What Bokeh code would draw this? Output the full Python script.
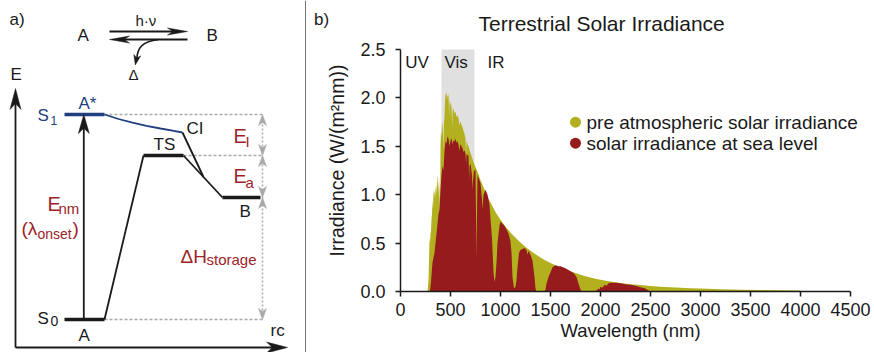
import numpy as np
from bokeh.plotting import figure
from bokeh.layouts import row
from bokeh.models import Range1d, FixedTicker, PrintfTickFormatter, Label
from bokeh.core.properties import value
from bokeh.embed import file_html
from bokeh.resources import INLINE

FONT = "Liberation Sans"
BLUE = "#213f7f"
DRED = "#9c2428"
GRAY = "#a9a9a9"
INK = "#1a1a1a"
YEL = "#b3b01f"
RED = "#951b1c"
MID = 0.35  # baseline -> middle offset (em)

# ---------------- panel a) : schematic energy diagram (diagram units) ----------------
# energy levels: S0/A, S1/A*, TS, B
lev_x0 = [64, 64, 143, 222]
lev_x1 = [104, 104, 183, 260]
lev_y = [319, 114, 155, 197]
lev_col = [INK, BLUE, INK, INK]

# ground-state reaction path
gs_x = [104, 143]
gs_y = [319, 155]
tsb_x = [183, 222]
tsb_y = [155, 197]
# conical intersection branch
ci_x = [182, 203]
ci_y = [132, 176.5]
# excited state S1 -> CI
s1_x = [104, 118, 132, 146, 160, 172, 182]
s1_y = [114, 118.5, 122.2, 125.3, 128.0, 130.1, 132]

# dotted guides
guide_x0 = [104, 183, 104]
guide_x1 = [262, 262, 262]
guide_y = [114, 155, 319]
dim_x = 262
dim_y = [114, 155, 197, 319]

# black arrows (tail -> tip)
ax_E = (15, 347, 15, 88)
ax_rc = (15, 347, 287, 347)
exc = (83.3, 319, 83.3, 114)
fwd = (109, 31, 187, 31)
bwd = (187, 39, 109, 39)

texts_a = [
    # text, left x, baseline y, size, color
    ("a)", 9, 25, 17, INK),
    ("h·ν", 135, 25, 15, INK),
    ("A", 77, 41, 17, INK),
    ("B", 206, 41, 17, INK),
    ("Δ", 128, 79, 15, INK),
    ("E", 10, 80, 17, INK),
    ("A*", 78, 109, 17, BLUE),
    ("S", 37, 121, 17, BLUE),
    ("1", 50, 124, 12, BLUE),
    ("CI", 186, 134, 17, INK),
    ("TS", 153, 150, 17, INK),
    ("B", 239, 217, 17, INK),
    ("S", 37, 324, 17, INK),
    ("0", 50, 325, 14, INK),
    ("A", 78, 341, 17, INK),
    ("rc", 270, 336, 17, INK),
    ("E", 233, 142, 20, DRED),
    ("I", 245, 146, 15, DRED),
    ("E", 233, 182, 20, DRED),
    ("a", 245, 187, 15, DRED),
    ("E", 47, 210, 20, DRED),
    ("nm", 58, 213, 15, DRED),
    ("(λ", 21, 235, 19, DRED),
    ("onset", 37, 238, 14, DRED),
    (")", 72, 235, 19, DRED),
    ("ΔH", 180, 263, 19, DRED),
    ("storage", 206, 264, 15, DRED),
]


def head(tx, ty, dx, dy, L, W):
    n = np.hypot(dx, dy)
    dx, dy = dx / n, dy / n
    nx, ny = -dy, dx
    bx, by = tx - L * dx, ty - L * dy
    kx, ky = tx - 0.72 * L * dx, ty - 0.72 * L * dy
    return ([tx, bx + W / 2 * nx, kx, bx - W / 2 * nx],
            [ty, by + W / 2 * ny, ky, by - W / 2 * ny])


def bare(fig):
    fig.grid.visible = False
    fig.outline_line_color = None
    try:
        fig.frame_align = False
    except Exception:
        pass


pa = figure(width=306, height=352, x_range=Range1d(0, 306), y_range=Range1d(352, 0),
            min_border=0, toolbar_location=None, output_backend="svg",
            x_axis_location=None, y_axis_location=None)
bare(pa)

# divider
pa.line([305.5, 305.5], [0, 352], line_color=INK, line_width=1.2)

# guides
for x0, x1, y in zip(guide_x0, guide_x1, guide_y):
    pa.line([x0, x1], [y, y], line_color=GRAY, line_width=1.5, line_dash="3 2")
pa.line([dim_x, dim_x], [dim_y[0] + 6, dim_y[-1] - 6], line_color=GRAY, line_width=1.5, line_dash="2 2")
hx, hy = [], []
for i in range(len(dim_y) - 1):
    a, b = dim_y[i], dim_y[i + 1]
    h1 = head(dim_x, a, 0, -1, 11, 8)
    h2 = head(dim_x, b, 0, 1, 11, 8)
    hx += [h1[0], h2[0]]
    hy += [h1[1], h2[1]]
pa.patches(hx, hy, fill_color=GRAY, line_color=GRAY, line_width=0.5)

# paths
pa.line(gs_x, gs_y, line_color=INK, line_width=1.8)
pa.line(tsb_x, tsb_y, line_color=INK, line_width=1.8)
pa.line(ci_x, ci_y, line_color=INK, line_width=1.8)
pa.line(s1_x, s1_y, line_color=BLUE, line_width=1.8)

# levels
for x0, x1, y, c in zip(lev_x0, lev_x1, lev_y, lev_col):
    pa.line([x0, x1], [y, y], line_color=c, line_width=3.4)

# black arrows
bx, by = [], []
for (x0, y0, x1, y1), L, W in [(ax_E, 21, 11), (ax_rc, 21, 11), (exc, 19, 11), (fwd, 20, 7), (bwd, 20, 7)]:
    dx, dy = x1 - x0, y1 - y0
    n = np.hypot(dx, dy)
    pa.line([x0, x1 - dx / n * L * 0.7], [y0, y1 - dy / n * L * 0.7], line_color=INK, line_width=1.8)
    h = head(x1, y1, dx, dy, L, W)
    bx.append(h[0]); by.append(h[1])
# curved arrow to Δ
pa.bezier(x0=[158], y0=[39], x1=[136.3], y1=[58], cx0=[141], cy0=[41], cx1=[137], cy1=[48],
          line_color=INK, line_width=1.7)
h = head(134.8, 64.5, -0.2, 1, 10, 7)
bx.append(h[0]); by.append(h[1])
pa.patches(bx, by, fill_color=INK, line_color=INK, line_width=0.5)

for t, x, y, s, c in texts_a:
    pa.text([x], [y - MID * s], text=[t], text_font=value(FONT), text_font_size=f"{s}px",
            text_color=c, text_baseline="middle", text_align="left")

# ---------------- panel b) : solar irradiance ----------------
ext_wl = [270, 280, 285, 290, 295, 300, 305, 310, 315, 320, 325, 330, 335, 340, 345, 350, 355, 360,
          365, 370, 375, 380, 385, 390, 393, 395, 397, 400, 405, 410, 415, 420, 425, 430, 435, 440,
          445, 450, 455, 460, 465, 470, 475, 480, 486, 490, 495, 500, 505, 510, 518, 520, 525, 530,
          540, 550, 560, 570, 580, 590, 600, 610, 620, 630, 640, 650, 656, 660, 670, 680, 690, 700,
          720, 740, 760, 780, 800, 825, 850, 875, 900, 925, 950, 975, 1000, 1050, 1100, 1150, 1200,
          1250, 1300, 1350, 1400, 1450, 1500, 1550, 1600, 1650, 1700, 1750, 1800, 1850, 1900, 1950,
          2000, 2100, 2200, 2300, 2400, 2500, 2600, 2700, 2800, 2900, 3000, 3200, 3400, 3600, 3800,
          4000, 4001]
ext_val = [0.0, 0.12, 0.3, 0.55, 0.5, 0.6, 0.62, 0.75, 0.8, 0.95, 0.85, 1.05, 1.0, 1.05, 0.95, 1.05,
           1.1, 1.0, 1.15, 1.2, 1.05, 1.15, 0.95, 1.2, 0.7, 1.15, 0.8, 1.5, 1.65, 1.6, 1.75, 1.72, 1.65,
           1.45, 1.75, 1.8, 1.95, 2.05, 2.02, 2.07, 1.98, 2.03, 2.01, 2.05, 1.8, 1.98, 1.95, 1.92, 1.96,
           1.9, 1.7, 1.85, 1.9, 1.88, 1.84, 1.86, 1.8, 1.82, 1.79, 1.72, 1.76, 1.72, 1.7, 1.66, 1.63,
           1.58, 1.4, 1.56, 1.52, 1.5, 1.46, 1.43, 1.37, 1.31, 1.26, 1.21, 1.15, 1.09, 1.03, 0.97, 0.92,
           0.87, 0.82, 0.78, 0.74, 0.67, 0.61, 0.555, 0.505, 0.46, 0.42, 0.385, 0.35, 0.32, 0.295, 0.27,
           0.248, 0.228, 0.208, 0.19, 0.173, 0.158, 0.145, 0.133, 0.122, 0.103, 0.088, 0.076, 0.066,
           0.057, 0.05, 0.044, 0.039, 0.034, 0.03, 0.024, 0.019, 0.015, 0.012, 0.01, 0.0]

sea_wl = [295, 305, 320, 340, 360, 370, 380, 390, 395, 400, 410, 420, 430, 440, 450, 460, 470, 480,
          490, 500, 510, 520, 530, 540, 550, 560, 570, 580, 590, 595, 600, 610, 620, 630, 640, 650,
          656, 660, 680, 687, 690, 700, 715, 720, 725, 735, 750, 760, 765, 770, 790, 800, 815, 820,
          830, 850, 870, 890, 900, 915, 930, 940, 950, 960, 970, 990, 1000, 1020, 1040, 1060, 1080,
          1100, 1110, 1120, 1135, 1150, 1160, 1170, 1185, 1200, 1220, 1240, 1260, 1270, 1280, 1300,
          1320, 1340, 1350, 1360, 1440, 1450, 1460, 1480, 1500, 1520, 1550, 1580, 1600, 1650, 1700,
          1730, 1760, 1780, 1800, 1810, 1940, 1960, 1980, 1990, 2000, 2020, 2040, 2060, 2080, 2100,
          2150, 2200, 2250, 2300, 2350, 2400, 2450, 2480, 2500]
sea_val = [0.0, 0.1, 0.3, 0.4, 0.6, 0.7, 0.8, 0.85, 0.95, 1.05, 1.2, 1.3, 1.25, 1.45, 1.55, 1.53,
           1.6, 1.58, 1.5, 1.56, 1.58, 1.52, 1.56, 1.55, 1.58, 1.54, 1.55, 1.52, 1.45, 1.5, 1.52, 1.5,
           1.48, 1.44, 1.46, 1.42, 1.32, 1.42, 1.4, 1.15, 1.3, 1.32, 1.2, 1.05, 1.15, 1.25, 1.25, 0.35,
           0.8, 1.2, 1.15, 1.12, 0.95, 0.85, 1.0, 1.05, 1.0, 0.9, 0.75, 0.55, 0.2, 0.1, 0.15, 0.3, 0.5,
           0.68, 0.72, 0.7, 0.68, 0.64, 0.6, 0.52, 0.4, 0.15, 0.03, 0.05, 0.12, 0.25, 0.4, 0.43, 0.44,
           0.45, 0.43, 0.38, 0.42, 0.38, 0.32, 0.15, 0.03, 0.0, 0.0, 0.02, 0.08, 0.15, 0.2, 0.25, 0.27,
           0.26, 0.26, 0.24, 0.21, 0.19, 0.15, 0.08, 0.02, 0.0, 0.0, 0.01, 0.03, 0.02, 0.05, 0.04, 0.07,
           0.06, 0.085, 0.09, 0.09, 0.085, 0.075, 0.07, 0.06, 0.045, 0.03, 0.01, 0.0]

x_ticks = [0, 500, 1000, 1500, 2000, 2500, 3000, 3500, 4000, 4500]
y_ticks = [0.0, 0.5, 1.0, 1.5, 2.0, 2.5]
vis_band = (410, 740)
region_labels = ["UV", "Vis", "IR"]
region_x = [47, 440, 870]
legend_labels = ["pre atmospheric solar irradiance", "solar irradiance at sea level"]
legend_y = [1.749, 1.532]
title_text = "Terrestrial Solar Irradiance"
y_label = "Irradiance (W/(m²nm))"
x_label = "Wavelength (nm)"

PXY = 96.8  # px per unit of irradiance
Y0 = 291    # page row of irradiance 0


def yv(page_y):
    return (Y0 - page_y) / PXY


# strip holding "b)" and the y-axis title (page coordinates)
pm = figure(width=44, height=352, x_range=Range1d(306, 350), y_range=Range1d(352, 0),
            min_border=0, toolbar_location=None, output_backend="svg",
            x_axis_location=None, y_axis_location=None)
bare(pm)
pm.text([313.5], [25 - MID * 17], text=["b)"], text_font=value(FONT), text_font_size="17px",
        text_color=INK, text_baseline="middle", text_align="left")
pm.text([336], [160], text=[y_label], text_font=value(FONT), text_font_size="19.5px",
        text_color=INK, text_baseline="middle", text_align="center", angle=np.pi / 2)

pb = figure(width=524, height=352, x_range=Range1d(0, 4600), y_range=Range1d(0, Y0 / PXY),
            min_border_left=50, min_border_right=14, min_border_top=0, min_border_bottom=61,
            toolbar_location=None, output_backend="svg")
bare(pb)

pb.quad(left=[vis_band[0]], right=[vis_band[1]], bottom=[0], top=[2.5], fill_color="#e0e0e0", line_color=None)
pb.varea(x=ext_wl, y1=0, y2=ext_val, fill_color=YEL)
pb.varea(x=sea_wl, y1=0, y2=sea_val, fill_color=RED)

pb.text(region_x, [yv(68 - MID * 17)] * 3, text=region_labels, text_font=value(FONT),
        text_font_size="17px", text_color=INK, text_baseline="middle", text_align="left")
pb.text([780], [yv(30 - MID * 21)], text=[title_text], text_font=value(FONT),
        text_font_size="21px", text_color=INK, text_baseline="middle", text_align="left")
pb.scatter([1750, 1750], legend_y, size=11, fill_color=[YEL, RED], line_color=None)
for lab, ly in zip(legend_labels, legend_y):
    pb.add_layout(Label(x=1860, y=ly, text=lab, text_font=FONT, text_font_size="19px",
                        text_color=INK, text_baseline="middle", text_align="left"))

for ax in (pb.xaxis[0], pb.yaxis[0]):
    ax.axis_line_color = INK
    ax.axis_line_width = 1.5
    ax.major_tick_line_color = INK
    ax.major_tick_line_width = 1.5
    ax.major_tick_in = 0
    ax.major_tick_out = 5
    ax.minor_tick_line_color = None
    ax.major_label_text_font = FONT
    ax.major_label_text_font_size = "18px"
    ax.major_label_text_color = INK
pb.xaxis.ticker = FixedTicker(ticks=x_ticks)
pb.xaxis.bounds = (-55, 4500)
pb.xaxis.major_label_standoff = 6
pb.xaxis.axis_label = x_label
pb.xaxis.axis_label_text_font = FONT
pb.xaxis.axis_label_text_font_size = "18.5px"
pb.xaxis.axis_label_text_font_style = "normal"
pb.xaxis.axis_label_text_color = INK
pb.xaxis.axis_label_standoff = 1
pb.yaxis.ticker = FixedTicker(ticks=y_ticks)
pb.yaxis.bounds = (0, 2.5)
pb.yaxis.formatter = PrintfTickFormatter(format="%.1f")
pb.yaxis.major_label_standoff = 10

layout = row(pa, pm, pb)
open("out.html", "w").write(file_html(layout, INLINE))
